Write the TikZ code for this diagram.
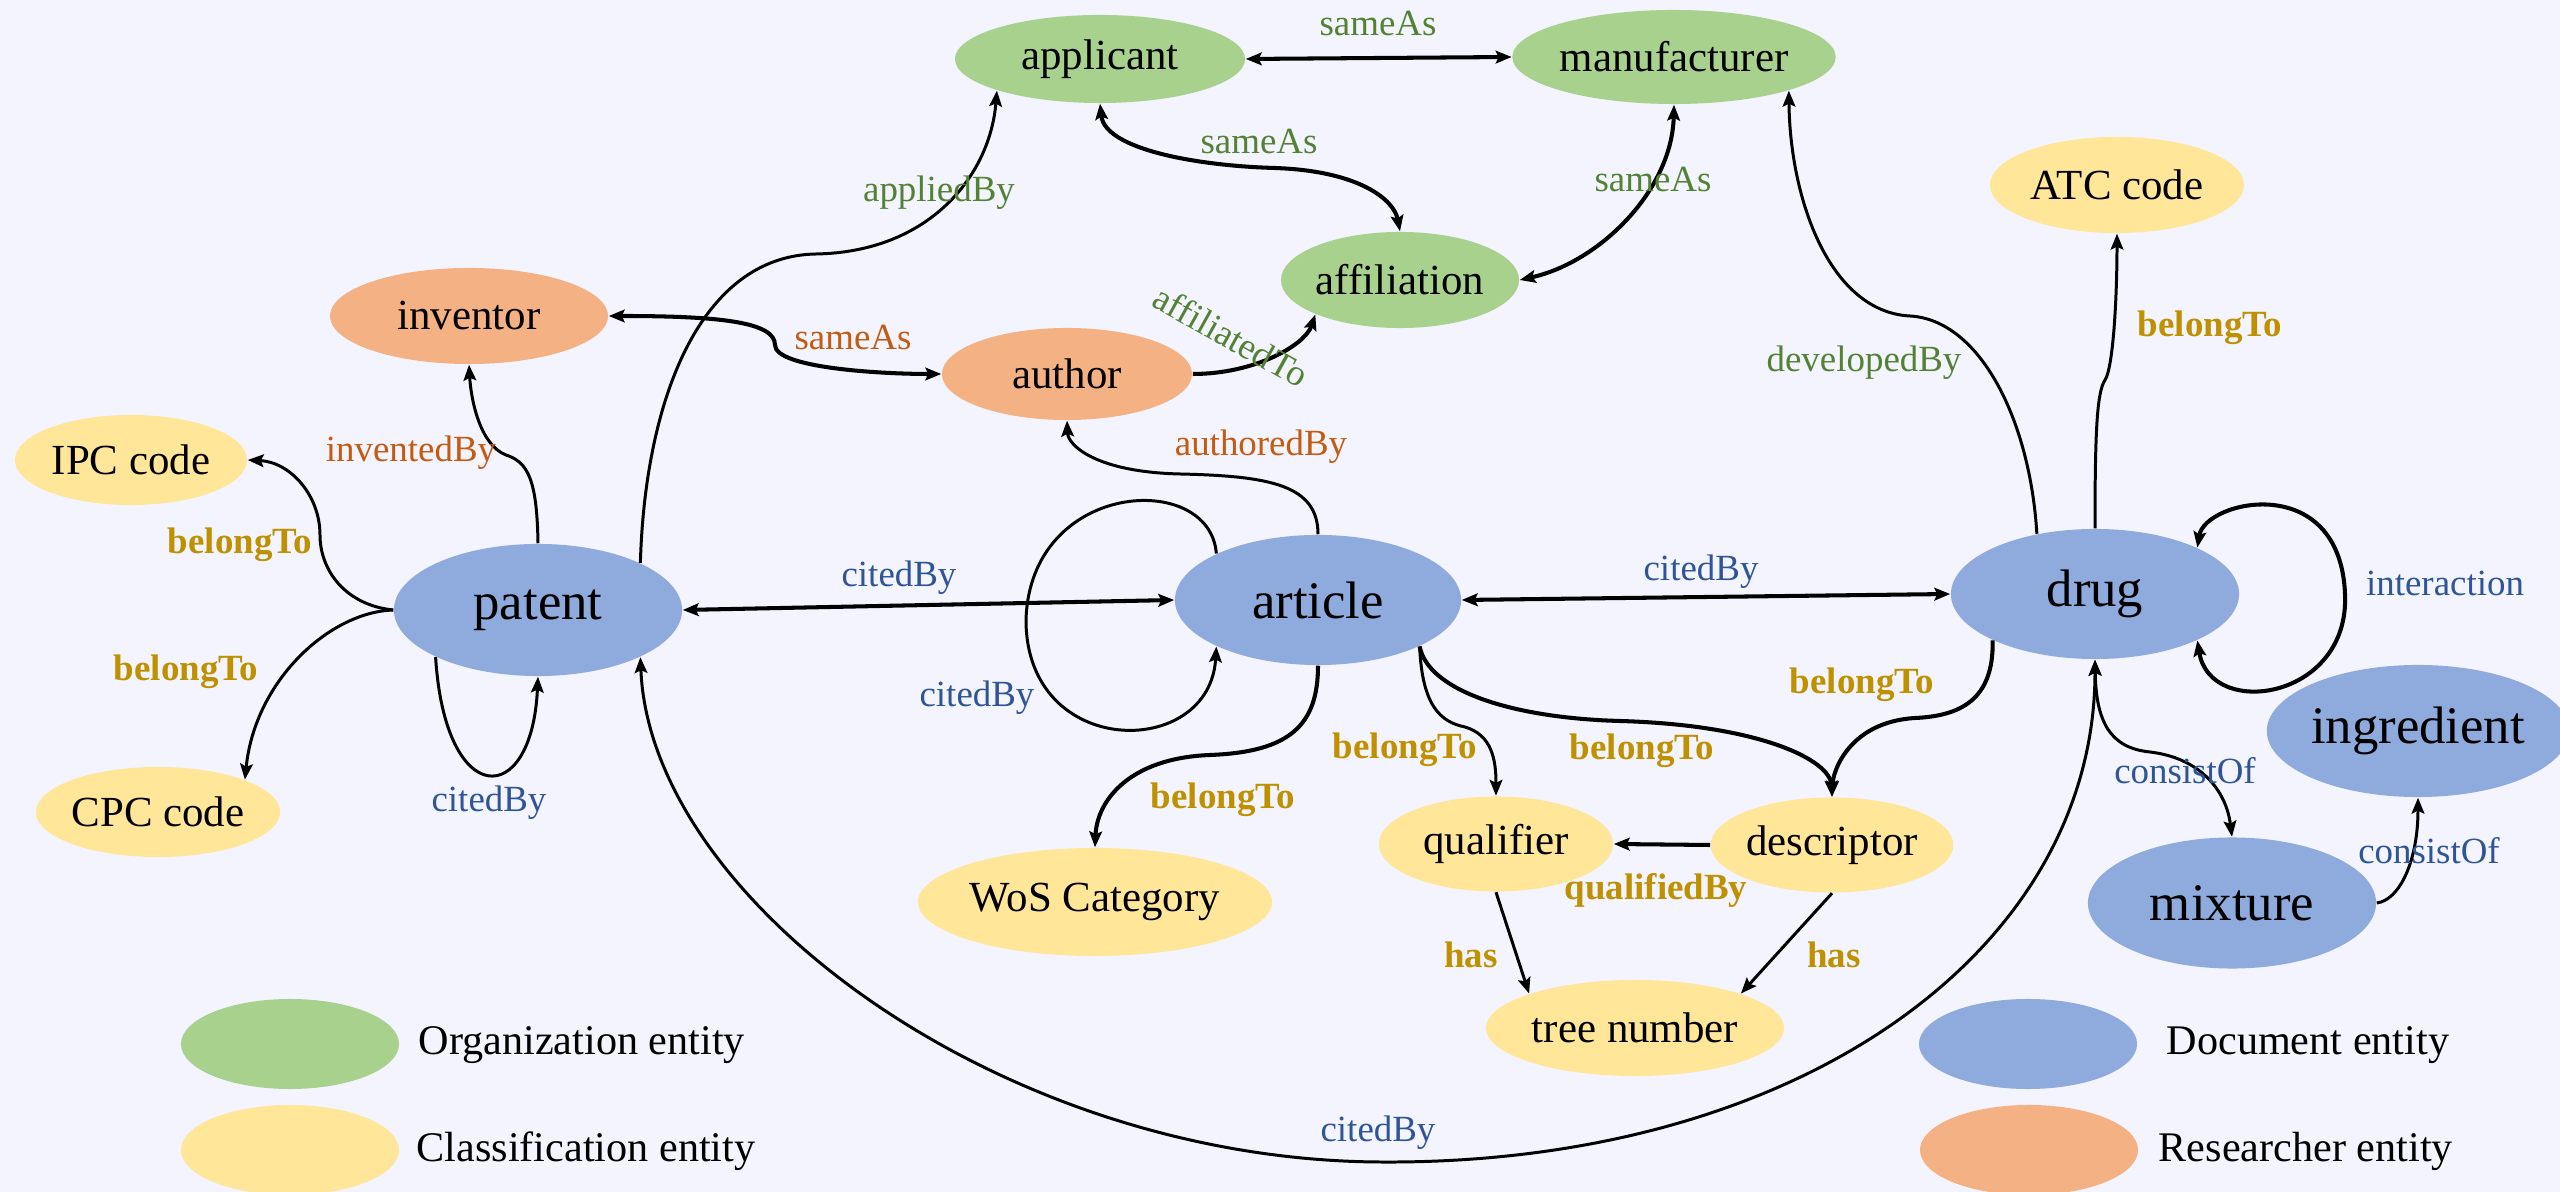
\documentclass[tikz,border=0pt]{standalone}
\usepackage{fontspec}
\setmainfont{Liberation Serif}
\usetikzlibrary{arrows.meta,shapes.geometric,calc}

\definecolor{bgcol}{HTML}{F3F4FE}
\definecolor{orgfill}{HTML}{A9D18E}
\definecolor{clsfill}{HTML}{FFE699}
\definecolor{docfill}{HTML}{8FAADC}
\definecolor{resfill}{HTML}{F4B183}
\definecolor{lblgreen}{HTML}{548235}
\definecolor{lblorange}{HTML}{C55A11}
\definecolor{lblblue}{HTML}{2F5597}
\definecolor{lblgold}{HTML}{BF9000}

\begin{document}
\begin{tikzpicture}[x=0.01cm,y=-0.01cm,
  ent/.style={ellipse, draw=none, inner sep=0pt, text=black,
    font=\fontsize{12.2}{14}\selectfont},
  bigent/.style={ent, font=\fontsize{15}{18}\selectfont},
  org/.style={ent, fill=orgfill},
  cls/.style={ent, fill=clsfill},
  doc/.style={bigent, fill=docfill},
  res/.style={ent, fill=resfill},
  sz/.style 2 args={minimum width=#1cm, minimum height=#2cm},
  lbl/.style={inner sep=0pt, font=\fontsize{10.5}{12}\selectfont},
  lgreen/.style={lbl, text=lblgreen},
  lorange/.style={lbl, text=lblorange},
  lblue/.style={lbl, text=lblblue},
  lgold/.style={lbl, text=lblgold, font=\fontsize{10.5}{12}\selectfont\bfseries},
  legtext/.style={anchor=west, inner sep=0pt, font=\fontsize{12}{14}\selectfont},
  conn/.style={draw=black, line width=0.85pt,
    arrows={-Stealth[length=4.5pt, width=3.6pt, inset=0.8pt]}},
  biconn/.style={conn,
    arrows={Stealth[length=4.5pt, width=3.6pt, inset=0.8pt]-Stealth[length=4.5pt, width=3.6pt, inset=0.8pt]}},
  thk/.style={line width=1.15pt},
]
\useasboundingbox (0,0) rectangle (2560,1192);
\fill[bgcol] (0,0) rectangle (2560,1192);

% ---------- entities ----------
\node[org, sz={2.90}{0.88}] (applicant) at (1100,59) {applicant};
\node[org, sz={3.18}{0.94}] (manufacturer) at (1674,57) {manufacturer};
\node[org, sz={2.10}{0.96}] (affiliation) at (1400,280) {affiliation};
\node[res, sz={2.78}{0.96}] (inventor) at (469,316) {inventor};
\node[res, sz={2.50}{0.92}] (author) at (1067,374) {author};
\node[cls, sz={2.32}{0.90}] (ipc) at (131,460) {IPC code};
\node[cls, sz={2.34}{0.90}] (cpc) at (158,812) {CPC code};
\node[cls, sz={2.54}{0.96}] (atc) at (2117,185) {ATC code};
\node[doc, sz={2.88}{1.32}] (patent) at (538,610) {patent};
\node[doc, sz={2.86}{1.30}] (article) at (1318,600) {article};
\node[doc, sz={2.88}{1.30}] (drug) at (2095,594) {drug};
\node[doc, sz={2.84}{1.32}] (ingredient) at (2418,731) {ingredient};
\node[doc, sz={2.88}{1.31}] (mixture) at (2232,903) {mixture};
\node[cls, sz={2.88}{1.08}] (wos) at (1095,902) {WoS Category};
\node[cls, sz={2.34}{0.95}] (qualifier) at (1496,844) {qualifier};
\node[cls, sz={2.34}{0.95}] (descriptor) at (1832,845) {descriptor};
\node[cls, sz={2.98}{0.96}] (tree) at (1635,1028) {tree number};

% ---------- legend ----------
\node[org, sz={2.18}{0.90}] (legorg) at (290,1044) {};
\node[cls, sz={2.18}{0.90}] (legcls) at (290,1150) {};
\node[doc, sz={2.18}{0.90}] (legdoc) at (2028,1044) {};
\node[res, sz={2.18}{0.90}] (legres) at (2029,1150) {};
\node[legtext] (legorgtxt) at (418,1045) {Organization entity};
\node[legtext] (legclstxt) at (416,1151) {Classification entity};
\node[legtext] (legdoctxt) at (2166,1045) {Document entity};
\node[legtext] (legrestxt) at (2158,1151) {Researcher entity};

% ---------- organisation links ----------
\draw[biconn, thk] (applicant.east) -- (manufacturer.west);
\draw[biconn, thk] (applicant.south) .. controls (1105,150) and (1200,166) .. (1275,168)
  .. controls (1360,171) and (1394,200) .. (affiliation.north);
\draw[biconn, thk] (manufacturer.south) .. controls (1672,190) and (1600,262) .. (affiliation.east);
\draw[biconn, thk] (inventor.east) .. controls (720,316) and (775,322) .. (775,345)
  .. controls (775,368) and (880,374) .. (author.west);
\draw[conn, thk] (author.east) .. controls (1255,374) and (1305,345) .. (affiliation.south west);

% ---------- patent links ----------
\draw[conn] (patent.north east) .. controls (645,400) and (700,256) .. (816,254)
  .. controls (930,252) and (990,175) .. (applicant.south west);
\draw[conn] (patent.north) .. controls (537,480) and (528,462) .. (506,455)
  .. controls (480,445) and (471,400) .. (inventor.south);
\draw[conn] (patent.west) .. controls (345,605) and (320,570) .. (320,535)
  .. controls (320,495) and (290,462) .. (ipc.east);
\draw[conn] (patent.west) .. controls (330,612) and (255,680) .. (cpc.north east);
\draw[conn] (patent.south west) .. controls (445,810) and (532,810) .. (patent.south);
\draw[biconn, thk] (patent.east) -- (article.west);
\draw[biconn] (patent.south east) .. controls (650,900) and (1000,1160) .. (1380,1162)
  .. controls (1800,1165) and (2095,950) .. (drug.south);

% ---------- article links ----------
\draw[conn] (article.north west) .. controls (1210,470) and (1030,480) .. (1026,620)
  .. controls (1026,760) and (1210,760) .. (article.south west);
\draw[conn] (article.north) .. controls (1318,485) and (1270,476) .. (1180,474)
  .. controls (1095,472) and (1068,445) .. (author.south);
\draw[conn, thk] (article.south) .. controls (1318,725) and (1290,752) .. (1210,755)
  .. controls (1130,758) and (1097,800) .. (wos.north);
\draw[biconn, thk] (article.east) -- (drug.west);
\draw[conn] (article.south east) .. controls (1422,705) and (1440,722) .. (1465,727)
  .. controls (1492,735) and (1496,760) .. (qualifier.north);
\draw[conn, thk] (article.south east) .. controls (1428,690) and (1510,718) .. (1620,721)
  .. controls (1760,725) and (1830,760) .. (descriptor.north);

% ---------- MeSH links ----------
\draw[conn, thk] (drug.south west) .. controls (1994,700) and (1960,716) .. (1915,718)
  .. controls (1850,722) and (1833,770) .. (descriptor.north);
\draw[conn, thk] (descriptor.west) -- (qualifier.east);
\draw[conn] (qualifier.south) -- (tree.north west);
\draw[conn] (descriptor.south) -- (tree.north east);

% ---------- drug links ----------
\draw[conn] (drug.134) .. controls (2030,420) and (1980,320) .. (1910,316)
  .. controls (1830,312) and (1790,200) .. (manufacturer.south east);
\draw[conn] (drug.north) .. controls (2095,430) and (2097,392) .. (2105,380)
  .. controls (2113,368) and (2117,300) .. (atc.south);
\draw[biconn, thk] (drug.north east) .. controls (2205,500) and (2340,470) .. (2345,594)
  .. controls (2350,700) and (2210,720) .. (drug.south east);
\draw[biconn] (drug.south) .. controls (2096,722) and (2110,748) .. (2150,752)
  .. controls (2200,758) and (2226,790) .. (mixture.north);
\draw[conn] (mixture.east) .. controls (2400,900) and (2418,860) .. (ingredient.south);

% ---------- relation labels ----------
\node[lgreen] (l01) at (1378,24) {sameAs};
\node[lgreen] (l02) at (1259,142) {sameAs};
\node[lgreen] (l03) at (1653,180) {sameAs};
\node[lgreen] (l04) at (939,193) {appliedBy};
\node[lorange] (l05) at (853,338) {sameAs};
\node[lgreen, rotate=-29] (l06) at (1231,336) {affiliatedTo};
\node[lorange] (l07) at (411,453) {inventedBy};
\node[lgold] (l08) at (240,545) {belongTo};
\node[lgold] (l09) at (186,672) {belongTo};
\node[lblue] (l10) at (489,803) {citedBy};
\node[lblue] (l11) at (899,578) {citedBy};
\node[lblue] (l12) at (977,698) {citedBy};
\node[lorange] (l13) at (1261,447) {authoredBy};
\node[lgold] (l14) at (1223,800) {belongTo};
\node[lblue] (l15) at (1701,572) {citedBy};
\node[lgreen] (l16) at (1864,363) {developedBy};
\node[lgold] (l17) at (2210,328) {belongTo};
\node[lblue] (l18) at (2445,583) {interaction};
\node[lgold] (l19) at (1862,685) {belongTo};
\node[lgold] (l20) at (1405,750) {belongTo};
\node[lgold] (l21) at (1642,751) {belongTo};
\node[lgold] (l22) at (1656,890) {qualifiedBy};
\node[lgold] (l23) at (1471,955) {has};
\node[lgold] (l24) at (1834,955) {has};
\node[lblue] (l25) at (2185,771) {consistOf};
\node[lblue] (l26) at (2429,851) {consistOf};
\node[lblue] (l27) at (1378,1133) {citedBy};
\end{tikzpicture}
\end{document}
